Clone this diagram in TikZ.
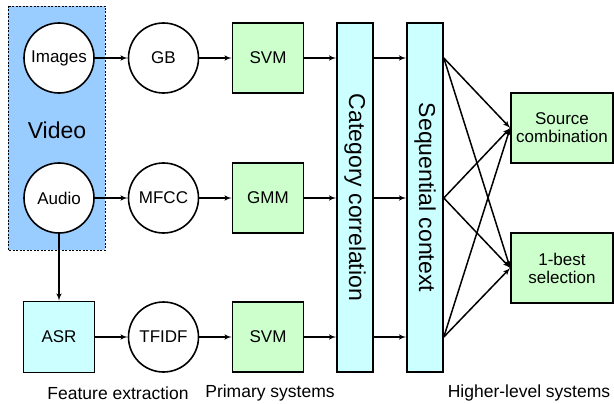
\documentclass[tikz,border=0pt]{standalone}
\usepackage{fontspec}
\setmainfont{Liberation Sans}
\usepackage{xcolor}
\usepackage{tikz}
\usetikzlibrary{arrows,calc,positioning}
\definecolor{videoblue}{HTML}{99CCFF}
\definecolor{lightcyan}{HTML}{CCFFFF}
\definecolor{lightgreen}{HTML}{CCFFCC}
\tikzstyle{arrow} = [draw, -latex', line width=1.5pt]
\tikzstyle{feat} = [draw, circle, line width=1.6pt, fill=white, minimum size=70pt, inner sep=0pt, font=\fontsize{17}{19}\selectfont]
\tikzstyle{sysbox} = [draw, rectangle, line width=1.6pt, fill=lightgreen, minimum width=71pt, minimum height=70pt, inner sep=0pt, align=center, font=\fontsize{17}{19}\selectfont]
\tikzstyle{bar} = [draw, rectangle, line width=1.6pt, fill=lightcyan, minimum width=36pt, minimum height=349pt, inner sep=0pt, font=\fontsize{23}{27}\selectfont]
\tikzstyle{caption} = [font=\fontsize{17.5}{19}\selectfont]

\begin{document}
\begin{tikzpicture}[
      x=1pt, y=-1pt,
      node distance = 104.5pt
    ]
      \useasboundingbox (0,0) rectangle (614,404);
      \fill[videoblue] (8,6) rectangle (105,250);
      \draw[dash pattern=on 2pt off 1.5pt, line width=0.8pt] (8,6) rectangle (105,250);
      \node (video) at (57,130) {\fontsize{23}{27}\selectfont Video};
      \node (imgs)  [feat] at (59,58)  {Images};
      \node (audio) [feat] at (59,198) {Audio};
      \node (asr)   [sysbox, fill=lightcyan, minimum height=71pt] at (59,337) {ASR};
      \node (gb)    [feat, right of=imgs]  {GB};
      \node (mfcc)  [feat, right of=audio] {MFCC};
      \node (tfidf) [feat, right of=asr]   {TFIDF};
      \node (svma)  [sysbox, right of=gb]    {SVM};
      \node (gmm)   [sysbox, right of=mfcc]  {GMM};
      \node (svmb)  [sysbox, right of=tfidf] {SVM};
      \node (catcorr) [bar] at (355,197.5) {\rotatebox{-90}{Category correlation}};
      \node (seqctx)  [bar] at (425,197.5) {\rotatebox{-90}{Sequential context}};
      \node (srccomb) [sysbox, minimum width=102pt] at (562,128) {Source\\[-1pt]combination};
      \node (best)    [sysbox, minimum width=102pt] at (562,268) {1-best\\[-1pt]selection};
      \node (featlab) [caption] at (118,393) {Feature extraction};
      \node (primlab) [caption] at (270,393) {Primary systems};
      \node (highlab) [caption] at (529,393) {Higher-level systems};
      % feature extraction
      \draw[arrow] (imgs)  -- (gb);
      \draw[arrow] (audio) -- (mfcc);
      \draw[arrow] (audio) -- (asr);
      \draw[arrow] (asr)   -- (tfidf);
      \draw[arrow] (gb)    -- (svma);
      \draw[arrow] (mfcc)  -- (gmm);
      \draw[arrow] (tfidf) -- (svmb);
      % primary systems into the bars
      \foreach \s in {svma,gmm,svmb} {
        \draw[arrow] (\s) -- (\s -| catcorr.west);
        \draw[arrow] (\s -| catcorr.east) -- (\s -| seqctx.west);
        \coordinate (out-\s) at (\s -| seqctx.east);
        \draw[arrow] (out-\s) -- (srccomb.west);
        \draw[arrow] (out-\s) -- (best.west);
      }
    \end{tikzpicture}
\end{document}
